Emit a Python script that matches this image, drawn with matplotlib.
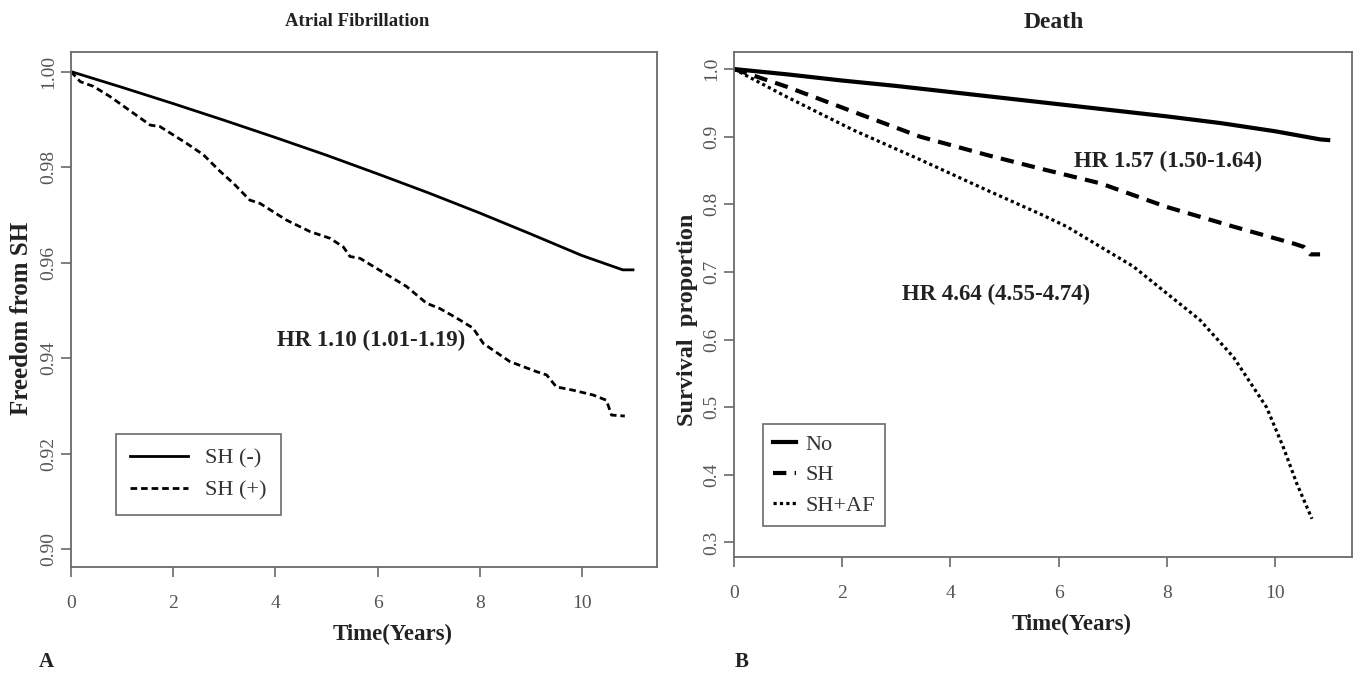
import matplotlib
matplotlib.use('Agg')
import matplotlib.pyplot as plt

plt.rcParams['font.family'] = ['Liberation Serif', 'DejaVu Serif']

# ---------------- Panel A: Atrial Fibrillation ----------------
af_neg_time = [0, 1, 2, 3, 4, 5, 6, 7, 8, 9, 10, 10.8, 11.0]
af_neg_surv = [1.0, 0.9967, 0.9933, 0.9898, 0.9862, 0.9825, 0.9786, 0.9746,
               0.9704, 0.9660, 0.9615, 0.9585, 0.9585]
af_pos_time = [0, 0.18, 0.44, 0.76, 1.09, 1.55, 1.74, 2.26, 2.59, 2.92, 3.18,
               3.50, 3.70, 4.22, 4.68, 5.07, 5.33, 5.46, 5.66, 5.92, 6.57,
               6.96, 7.22, 7.55, 7.87, 8.07, 8.26, 8.59, 9.11, 9.31, 9.50,
               9.83, 10.22, 10.48, 10.58, 10.84]
af_pos_surv = [1.0, 0.9979, 0.9969, 0.9948, 0.9923, 0.9888, 0.9885, 0.9850,
               0.9826, 0.9791, 0.9766, 0.9731, 0.9724, 0.9689, 0.9665, 0.9651,
               0.9633, 0.9613, 0.9609, 0.9592, 0.9550, 0.9515, 0.9504, 0.9484,
               0.9463, 0.9431, 0.9417, 0.9393, 0.9372, 0.9365, 0.9340, 0.9333,
               0.9323, 0.9312, 0.9281, 0.9279]
a_xticks = [0, 2, 4, 6, 8, 10]
a_yticks = [0.90, 0.92, 0.94, 0.96, 0.98, 1.00]
a_yticklabels = ['0.90', '0.92', '0.94', '0.96', '0.98', '1.00']
a_labels = ['SH (-)', 'SH (+)']

# ---------------- Panel B: Death ----------------
no_time = [0, 1, 2, 3, 4, 5, 6, 7, 8, 9, 10, 10.83, 10.98]
no_surv = [1.0, 0.992, 0.983, 0.975, 0.966, 0.957, 0.948, 0.939, 0.930,
           0.920, 0.908, 0.896, 0.895]
sh_time = [0, 0.97, 2.2, 3.44, 4.67, 5.65, 6.77, 8.0, 9.23, 10.34, 10.53,
           10.65, 10.83]
sh_surv = [1.0, 0.974, 0.937, 0.900, 0.873, 0.853, 0.831, 0.796, 0.767,
           0.742, 0.737, 0.726, 0.726]
shaf_time = [0, 0.97, 2.2, 3.44, 4.67, 5.65, 6.15, 7.38, 8.61, 9.23, 9.84,
             10.15, 10.40, 10.68]
shaf_surv = [1.0, 0.959, 0.910, 0.866, 0.821, 0.786, 0.767, 0.708, 0.629,
             0.574, 0.500, 0.441, 0.387, 0.335]
b_xticks = [0, 2, 4, 6, 8, 10]
b_yticks = [0.3, 0.4, 0.5, 0.6, 0.7, 0.8, 0.9, 1.0]
b_yticklabels = ['0.3', '0.4', '0.5', '0.6', '0.7', '0.8', '0.9', '1.0']
b_labels = ['No', 'SH', 'SH+AF']

W, H = 1358, 675
fig = plt.figure(figsize=(W / 100, H / 100), dpi=100)

def px_axes(x0, y0, x1, y1):
    return fig.add_axes([x0 / W, 1 - y1 / H, (x1 - x0) / W, (y1 - y0) / H])

frame_col = '#6a6a6a'
tick_col = '#555555'
text_col = '#222222'

def style(ax):
    for s in ax.spines.values():
        s.set_color(frame_col)
        s.set_linewidth(1.3)
    ax.tick_params(direction='out', length=7, width=1.2, color=frame_col,
                   labelcolor=tick_col, labelsize=14)
    ax.tick_params(axis='x', pad=13)
    ax.tick_params(axis='y', pad=3)

# Panel A
axA = px_axes(71, 52, 657, 567)
axA.plot(af_neg_time, af_neg_surv, color='black', lw=2.0, label=a_labels[0])
axA.plot(af_pos_time, af_pos_surv, color='black', lw=2.0,
         dashes=(2.4, 1.4), label=a_labels[1])
axA.set_xlim(0, 11.47)
axA.set_ylim(0.8963, 1.0041)
axA.set_xticks(a_xticks)
axA.set_yticks(a_yticks)
axA.set_yticklabels(a_yticklabels, rotation=90, va='center')
style(axA)
axA.text(5.87, 0.9438, 'HR 1.10 (1.01-1.19)', ha='center', va='center',
         fontsize=16.5, fontweight='bold', color=text_col)
legA = axA.legend(loc='lower left', bbox_to_anchor=(0.0763, 0.101),
                  borderaxespad=0, fontsize=16, handlelength=2.6,
                  handletextpad=0.75, labelspacing=0.5, borderpad=0.65,
                  fancybox=False, edgecolor=frame_col, framealpha=1)
legA.get_frame().set_linewidth(1.2)
for t in legA.get_texts():
    t.set_color('#333333')

# Panel B
axB = px_axes(734, 52, 1352, 557)
axB.plot(no_time, no_surv, color='black', lw=3.0, label=b_labels[0])
axB.plot(sh_time, sh_surv, color='black', lw=3.0, dashes=(3.2, 2.0),
         label=b_labels[1])
axB.plot(shaf_time, shaf_surv, color='black', lw=2.3, dashes=(1.0, 1.0),
         label=b_labels[2])
axB.set_xlim(0, 11.42)
axB.set_ylim(0.2785, 1.0252)
axB.set_xticks(b_xticks)
axB.set_yticks(b_yticks)
axB.set_yticklabels(b_yticklabels, rotation=90, va='center')
style(axB)
axB.text(8.03, 0.863, 'HR 1.57 (1.50-1.64)', ha='center', va='center',
         fontsize=16.5, fontweight='bold', color=text_col)
axB.text(4.84, 0.666, 'HR 4.64 (4.55-4.74)', ha='center', va='center',
         fontsize=16.5, fontweight='bold', color=text_col)
legB = axB.legend(loc='lower left', bbox_to_anchor=(0.0474, 0.0615),
                  borderaxespad=0, fontsize=16, handlelength=1.0,
                  handletextpad=0.45, labelspacing=0.45, borderpad=0.45,
                  fancybox=False, edgecolor=frame_col, framealpha=1)
legB.get_frame().set_linewidth(1.2)
for t in legB.get_texts():
    t.set_color('#333333')

# Titles and labels
fig.text(357 / W, 1 - 21 / H, 'Atrial Fibrillation', ha='center', va='center',
         fontsize=13.5, fontweight='bold', color=text_col)
fig.text(1054 / W, 1 - 23 / H, 'Death', ha='center', va='center',
         fontsize=17, fontweight='bold', color=text_col)
fig.text(22 / W, 1 - 318 / H, 'Freedom from SH', ha='center', va='center',
         rotation=90, fontsize=18, fontweight='bold', color=text_col)
fig.text(688 / W, 1 - 320 / H, 'Survival  proportion', ha='center', va='center',
         rotation=90, fontsize=17.5, fontweight='bold', color=text_col)
fig.text(393 / W, 1 - 634 / H, 'Time(Years)', ha='center', va='center',
         fontsize=16.5, fontweight='bold', color=text_col)
fig.text(1072 / W, 1 - 624 / H, 'Time(Years)', ha='center', va='center',
         fontsize=16.5, fontweight='bold', color=text_col)
fig.text(46 / W, 1 - 662 / H, 'A', ha='center', va='center',
         fontsize=15, fontweight='bold', color=text_col)
fig.text(742 / W, 1 - 662 / H, 'B', ha='center', va='center',
         fontsize=15, fontweight='bold', color=text_col)

fig.savefig('out.png', dpi=100, facecolor='white')
